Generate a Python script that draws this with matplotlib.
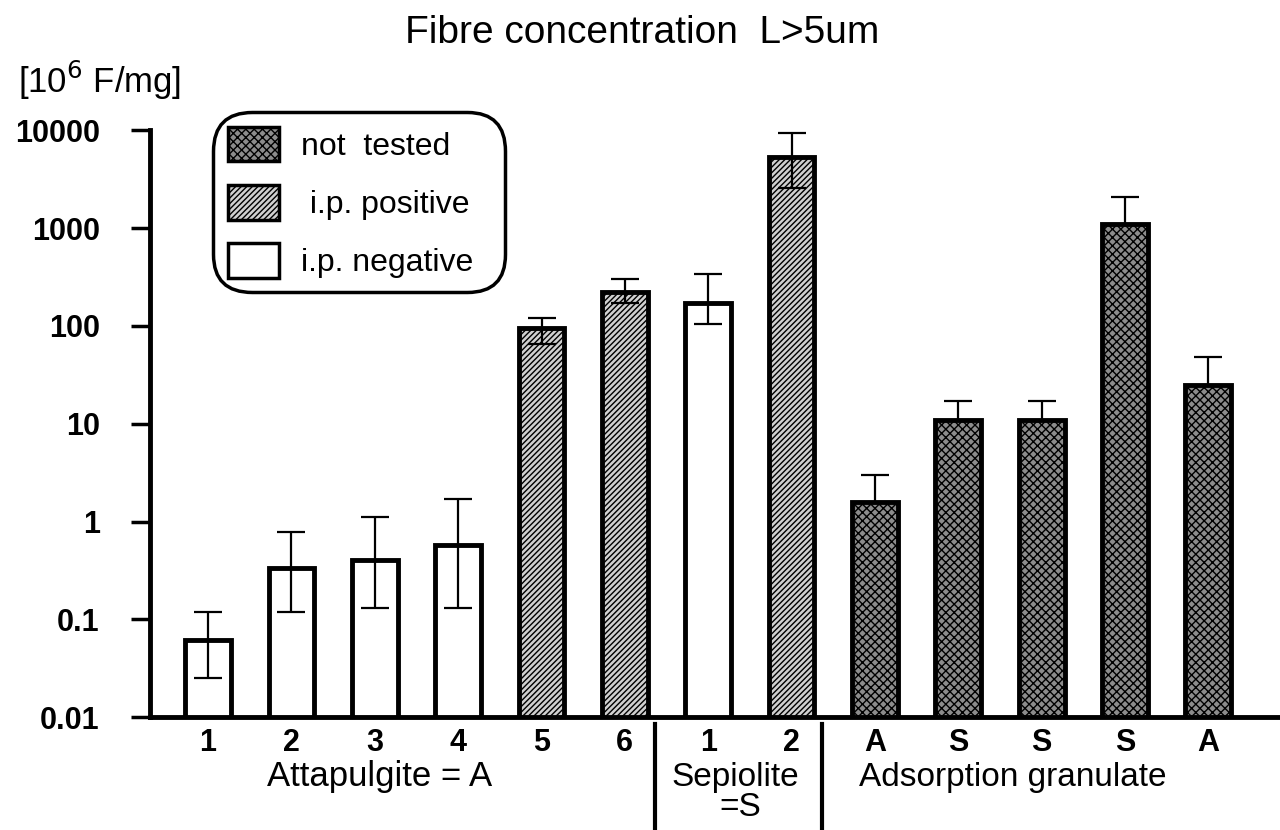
import matplotlib.pyplot as plt
import matplotlib.patches as mpatches
import numpy as np

plt.rcParams['font.family'] = ['Liberation Sans', 'DejaVu Sans']
plt.rcParams['hatch.linewidth'] = 1.0

# values (10^6 fibres/mg, log scale)
labels = ['1', '2', '3', '4', '5', '6', '1', '2', 'A', 'S', 'S', 'S', 'A']
values = [0.06, 0.33, 0.40, 0.58, 95, 220, 170, 5300, 1.6, 11, 11, 1100, 25]
err_hi = [0.12, 0.78, 1.1, 1.7, 120, 300, 340, 9300, 3.0, 17, 17, 2100, 48]
err_lo = [0.025, 0.12, 0.13, 0.13, 65, 170, 105, 2600, 1.0, 7, 7, 600, 15]
kind = ['neg', 'neg', 'neg', 'neg', 'pos', 'pos', 'neg', 'pos',
        'nt', 'nt', 'nt', 'nt', 'nt']

styles = {
    'nt': dict(facecolor='#8c8c8c', hatch='xxxx'),
    'pos': dict(facecolor='#d0d0d0', hatch='//////'),
    'neg': dict(facecolor='white', hatch=None),
}

fig = plt.figure(figsize=(12.8, 8.3), dpi=100)
ax = fig.add_axes([0.117, 0.136, 0.883, 0.707])

x = np.arange(len(values))
for i in range(len(values)):
    st = styles[kind[i]]
    ax.bar(x[i], values[i], width=0.55, bottom=0.001, facecolor=st['facecolor'],
           hatch=st['hatch'], edgecolor='black', linewidth=3.5, zorder=2)

# error bars: the lower half is hidden inside the "not tested" bars
vals = np.array(values)
lo = vals - np.array(err_lo)
hi = np.array(err_hi) - vals
for group, z in [(['neg', 'pos'], 3), (['nt'], 1)]:
    idx = [i for i in range(len(vals)) if kind[i] in group]
    ax.errorbar(x[idx], vals[idx], yerr=[lo[idx], hi[idx]], fmt='none', ecolor='black',
                elinewidth=1.6, capsize=10, capthick=1.6, zorder=z)

ax.set_yscale('log')
ax.set_ylim(0.01, 10000)
ax.set_xlim(-0.7, 12.86)
ax.set_yticks([0.01, 0.1, 1, 10, 100, 1000, 10000])
ax.set_yticklabels(['0.01', '0.1', '1', '10', '100', '1000', '10000'])
ax.minorticks_off()
ax.tick_params(axis='y', length=14, width=2.5, labelsize=22, pad=22)
for t in ax.get_yticklabels():
    t.set_fontweight('bold')
ax.set_xticks(x)
ax.set_xticklabels(labels, fontsize=22, fontweight='bold')
ax.tick_params(axis='x', length=0, pad=8)

ax.spines['top'].set_visible(False)
ax.spines['right'].set_visible(False)
ax.spines['left'].set_linewidth(3.5)
ax.spines['bottom'].set_linewidth(3.5)

# group labels and separators
fig.text(380 / 1280, 1 - 776 / 830, 'Attapulgite = A', fontsize=25, ha='center', va='center')
fig.text(735 / 1280, 1 - 777 / 830, 'Sepiolite', fontsize=24, ha='center', va='center')
fig.text(740 / 1280, 1 - 807 / 830, '=S', fontsize=24, ha='center', va='center')
fig.text(1013 / 1280, 1 - 777 / 830, 'Adsorption granulate', fontsize=24, ha='center', va='center')
for xs in [655, 822]:
    fig.add_artist(plt.Line2D([xs / 1280, xs / 1280], [0, 1 - 724 / 830],
                              color='black', linewidth=3))

fig.text(642 / 1280, 1 - 33 / 830, 'Fibre concentration  L>5um', fontsize=28, ha='center', va='center')
fig.text(18 / 1280, 1 - 80 / 830, '[10$^{6}$ F/mg]', fontsize=25, ha='left', va='center')

handles = [
    mpatches.Patch(facecolor='#8c8c8c', hatch='xxxx', edgecolor='black', linewidth=2.5, label='not  tested'),
    mpatches.Patch(facecolor='#d0d0d0', hatch='//////', edgecolor='black', linewidth=2.5, label=' i.p. positive'),
    mpatches.Patch(facecolor='white', edgecolor='black', linewidth=2.5, label='i.p. negative  '),
]
leg = ax.legend(handles=handles, loc='upper left', bbox_to_anchor=(0.042, 1.058),
                fontsize=23, handlelength=1.6, handleheight=1.3, labelspacing=0.72,
                borderpad=0.45, handletextpad=0.7, fancybox=True, framealpha=1)
leg.get_frame().set_edgecolor('black')
leg.get_frame().set_linewidth(2.5)
leg.get_frame().set_boxstyle('round', pad=0.0, rounding_size=1.2)

fig.savefig('out.png', dpi=100)
